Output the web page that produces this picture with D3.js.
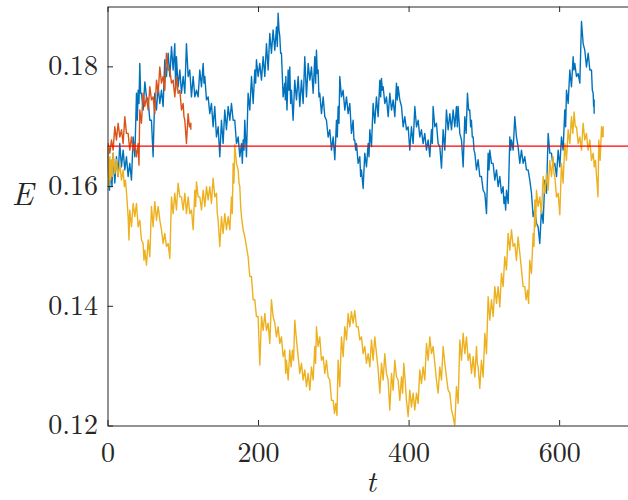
<!DOCTYPE html>
<html>
<head>
<meta charset="utf-8">
<script src="https://cdn.jsdelivr.net/npm/d3@7/dist/d3.min.js"></script>
<style>
html,body{margin:0;padding:0;background:#fff;}
svg{display:block;}
</style>
</head>
<body>
<svg id="chart" width="628" height="500"></svg>
<script>
// ---- data ----
// each sample: time t, upper and lower extent of the noisy trace around t
const xTicks = [0, 200, 400, 600];
const yTicks = [0.12, 0.14, 0.16, 0.18];
const refLevel = 1/6;

const blueT = [0,0.8,4.4,7.5,11.9,16.3,20.8,25.2,29.6,34.1,38.5,40.7,42.9,45.1,49.6,54.0,58.4,62.8,67.3,71.7,76.1,80.6,85.0,89.4,91.6,96.1,100.5,104.9,109.3,113.8,118.2,122.6,127.1,129.3,133.7,138.1,142.5,147.0,151.4,155.8,160.3,164.7,169.1,173.6,178.0,180.2,182.4,186.8,191.3,195.7,197.9,202.3,206.8,211.2,215.6,220.0,224.5,226.7,228.9,231.1,235.6,236.9,240.0,242.2,244.4,248.8,253.3,257.7,262.1,266.6,271.0,275.4,277.6,279.8,282.0,286.5,290.9,295.3,299.8,304.2,306.4,308.6,313.0,317.5,321.9,326.3,328.5,330.8,335.2,337.4,341.8,346.3,348.5,352.9,357.3,361.8,364.0,366.2,370.6,375.1,379.5,383.9,386.1,390.6,395.0,399.4,403.8,408.3,412.7,417.1,421.5,426.0,430.4,432.6,437.0,441.5,445.9,450.3,454.8,459.2,463.6,465.8,470.3,474.7,478.2,481.3,483.5,485.8,488.0,492.4,496.8,501.3,505.7,507.9,512.3,516.8,521.2,525.6,527.8,530.1,534.5,536.7,541.1,545.5,550.0,554.4,558.8,563.3,567.7,572.1,576.5,581.0,585.4,589.8,594.3,598.7,603.1,607.5,609.8,614.2,618.6,620.8,625.3,629.7,634.1,638.6,643.0,645.2,646.5];
const blueHi = [.1660,.1627,.1632,.1655,.1649,.1671,.1660,.1649,.1638,.1682,.1755,.1760,.1805,.1755,.1774,.1744,.1710,.1755,.1766,.1760,.1811,.1822,.1833,.1838,.1816,.1794,.1783,.1838,.1794,.1783,.1760,.1794,.1805,.1783,.1749,.1738,.1733,.1699,.1710,.1727,.1733,.1738,.1710,.1682,.1671,.1677,.1710,.1755,.1783,.1794,.1811,.1805,.1816,.1838,.1855,.1861,.1866,.1889,.1850,.1822,.1772,.1783,.1794,.1799,.1760,.1777,.1783,.1777,.1816,.1805,.1799,.1816,.1827,.1794,.1755,.1749,.1710,.1694,.1682,.1710,.1733,.1783,.1760,.1749,.1738,.1710,.1677,.1671,.1649,.1627,.1655,.1671,.1694,.1738,.1749,.1777,.1780,.1766,.1749,.1755,.1744,.1772,.1766,.1733,.1716,.1699,.1699,.1733,.1710,.1694,.1688,.1677,.1694,.1733,.1705,.1666,.1694,.1727,.1721,.1727,.1733,.1733,.1677,.1716,.1755,.1727,.1710,.1682,.1655,.1644,.1616,.1588,.1655,.1660,.1638,.1627,.1616,.1599,.1582,.1593,.1682,.1677,.1716,.1666,.1660,.1649,.1627,.1588,.1560,.1532,.1560,.1610,.1688,.1655,.1638,.1660,.1682,.1727,.1760,.1794,.1816,.1805,.1788,.1875,.1827,.1822,.1794,.1755,.1744];
const blueLo = [.1650,.1593,.1599,.1605,.1616,.1632,.1627,.1616,.1610,.1649,.1710,.1738,.1755,.1727,.1749,.1710,.1649,.1727,.1738,.1733,.1783,.1783,.1794,.1760,.1766,.1755,.1755,.1783,.1749,.1749,.1749,.1766,.1772,.1744,.1721,.1699,.1682,.1649,.1671,.1694,.1710,.1710,.1671,.1649,.1638,.1660,.1649,.1727,.1738,.1772,.1783,.1777,.1783,.1794,.1822,.1827,.1833,.1861,.1822,.1749,.1744,.1727,.1760,.1738,.1710,.1744,.1733,.1738,.1749,.1777,.1755,.1772,.1788,.1749,.1721,.1716,.1682,.1660,.1644,.1682,.1705,.1749,.1727,.1721,.1688,.1677,.1660,.1638,.1616,.1596,.1632,.1649,.1666,.1705,.1716,.1749,.1760,.1738,.1716,.1727,.1716,.1744,.1744,.1699,.1694,.1660,.1671,.1699,.1682,.1671,.1660,.1649,.1671,.1699,.1671,.1630,.1660,.1694,.1694,.1699,.1699,.1688,.1632,.1688,.1727,.1699,.1682,.1660,.1627,.1616,.1593,.1554,.1627,.1638,.1610,.1599,.1588,.1571,.1560,.1571,.1660,.1660,.1682,.1638,.1638,.1627,.1610,.1549,.1538,.1504,.1538,.1588,.1655,.1632,.1616,.1632,.1660,.1699,.1738,.1766,.1794,.1783,.1772,.1838,.1799,.1794,.1760,.1733,.1721];

const orangeT = [0,0.8,5.3,9.7,14.1,18.6,23.0,27.4,31.8,36.3,40.7,42.9,47.3,51.8,56.2,60.6,65.1,69.5,73.9,78.3,82.8,87.2,91.6,96.1,100.5,102.7,107.1,110.7];
const orangeHi = [.1667,.1671,.1677,.1699,.1705,.1694,.1716,.1688,.1682,.1671,.1671,.1727,.1755,.1749,.1766,.1749,.1777,.1799,.1783,.1822,.1794,.1777,.1783,.1760,.1738,.1710,.1721,.1705];
const orangeLo = [.1660,.1655,.1660,.1677,.1682,.1671,.1688,.1660,.1660,.1649,.1635,.1705,.1733,.1727,.1744,.1721,.1755,.1772,.1760,.1794,.1772,.1749,.1755,.1727,.1716,.1671,.1699,.1694];

const yellowT = [0,0.8,3.1,5.3,7.5,11.9,16.3,20.8,23.9,27.4,29.6,34.1,38.5,42.9,47.3,49.6,54.0,58.4,62.8,67.3,71.7,76.1,80.6,85.0,89.4,93.8,98.3,102.7,107.1,111.6,116.0,118.2,122.6,127.1,131.5,135.9,140.3,144.8,147.0,151.4,155.8,160.3,164.7,166.9,169.1,173.6,175.8,178.0,182.4,186.8,191.3,195.7,200.1,204.6,209.0,213.4,217.8,222.3,226.7,231.1,235.6,237.8,242.2,245.7,248.8,253.3,257.7,262.1,266.6,271.0,275.4,277.6,282.0,286.5,290.9,295.3,299.8,303.3,306.4,310.8,315.3,319.7,324.1,328.5,333.0,337.4,341.8,346.3,350.7,355.1,359.6,364.0,368.4,372.8,377.3,381.7,386.1,390.6,393.6,397.2,401.6,406.0,410.5,414.9,419.3,423.8,428.2,432.6,437.0,441.5,445.9,450.3,454.8,459.2,463.6,468.1,472.5,476.9,481.3,485.8,490.2,492.4,496.8,501.3,505.7,510.1,514.6,519.0,523.4,527.8,532.3,536.7,541.1,545.5,550.0,554.4,557.9,561.0,565.5,567.7,569.9,574.3,578.8,583.2,587.6,592.1,594.3,598.7,603.1,607.5,612.0,616.4,619.9,623.1,627.5,631.9,636.3,640.8,645.2,648.3,650.5,652.7,656.3,658.5];
const yellowHi = [.1667,.1666,.1649,.1644,.1655,.1644,.1638,.1627,.1610,.1549,.1560,.1571,.1571,.1543,.1504,.1493,.1510,.1566,.1574,.1566,.1527,.1521,.1504,.1582,.1588,.1605,.1582,.1588,.1582,.1560,.1593,.1607,.1582,.1593,.1599,.1599,.1613,.1588,.1543,.1549,.1554,.1549,.1582,.1638,.1669,.1627,.1599,.1549,.1515,.1482,.1449,.1410,.1382,.1382,.1387,.1371,.1410,.1371,.1365,.1348,.1326,.1309,.1326,.1326,.1376,.1315,.1304,.1293,.1287,.1298,.1332,.1365,.1348,.1315,.1309,.1276,.1242,.1237,.1309,.1348,.1365,.1387,.1390,.1392,.1365,.1348,.1332,.1320,.1343,.1348,.1293,.1304,.1320,.1276,.1287,.1309,.1276,.1281,.1304,.1242,.1259,.1254,.1254,.1293,.1298,.1337,.1348,.1332,.1276,.1298,.1332,.1281,.1254,.1215,.1265,.1343,.1354,.1348,.1320,.1315,.1332,.1298,.1309,.1354,.1415,.1410,.1432,.1432,.1454,.1482,.1521,.1527,.1504,.1515,.1460,.1432,.1426,.1476,.1521,.1577,.1593,.1582,.1616,.1621,.1643,.1649,.1616,.1588,.1638,.1671,.1694,.1716,.1724,.1699,.1682,.1705,.1688,.1677,.1655,.1643,.1604,.1677,.1699,.1699];
const yellowLo = [.1660,.1599,.1610,.1616,.1621,.1616,.1610,.1599,.1582,.1510,.1532,.1549,.1532,.1510,.1476,.1468,.1482,.1532,.1543,.1543,.1504,.1499,.1479,.1554,.1560,.1582,.1560,.1554,.1554,.1527,.1566,.1582,.1560,.1566,.1577,.1571,.1582,.1554,.1499,.1521,.1527,.1527,.1554,.1605,.1638,.1605,.1566,.1527,.1499,.1449,.1410,.1382,.1301,.1359,.1359,.1337,.1382,.1348,.1337,.1315,.1287,.1276,.1298,.1309,.1343,.1287,.1276,.1265,.1259,.1276,.1304,.1332,.1309,.1287,.1281,.1242,.1220,.1217,.1265,.1315,.1343,.1365,.1371,.1365,.1343,.1320,.1304,.1298,.1309,.1320,.1254,.1276,.1287,.1226,.1259,.1281,.1242,.1254,.1276,.1215,.1231,.1226,.1237,.1270,.1276,.1309,.1320,.1304,.1254,.1276,.1304,.1259,.1226,.1200,.1237,.1309,.1320,.1309,.1287,.1281,.1304,.1262,.1281,.1320,.1376,.1382,.1404,.1398,.1432,.1460,.1493,.1499,.1476,.1488,.1432,.1410,.1404,.1454,.1499,.1532,.1566,.1554,.1588,.1593,.1616,.1621,.1582,.1552,.1605,.1643,.1671,.1688,.1699,.1671,.1660,.1677,.1660,.1643,.1632,.1621,.1582,.1643,.1682,.1682];

// ---- layout ----
const svg = d3.select("#chart");
const x = d3.scaleLinear().domain([0, 700]).range([107.5, 634.4]);
const y = d3.scaleLinear().domain([0.12, 0.19]).range([425.5, 6.5]);
const axisColor = "#262626";
const fontFam = "'Latin Modern Roman','CMU Serif','Liberation Serif','Times New Roman',serif";

svg.append("defs").append("clipPath").attr("id", "plotClip")
  .append("rect")
  .attr("x", x(0)).attr("y", y(0.19))
  .attr("width", x(700) - x(0)).attr("height", y(0.12) - y(0.19));

function zig(T, H, L) {
  const pts = [];
  for (let i = 0; i < T.length; i++) {
    const tn = i < T.length - 1 ? T[i + 1] : T[i];
    pts.push([T[i], H[i]]);
    pts.push([(T[i] + tn) / 2, L[i]]);
  }
  return pts;
}
const line = d3.line().x(d => x(d[0])).y(d => y(d[1]));

const plot = svg.append("g").attr("clip-path", "url(#plotClip)");
const series = [
  {T: blueT, H: blueHi, L: blueLo, c: "#0072BD"},
  {T: orangeT, H: orangeHi, L: orangeLo, c: "#D95319"},
  {T: yellowT, H: yellowHi, L: yellowLo, c: "#EDB120"}
];
series.forEach(s => {
  plot.append("path")
    .attr("d", line(zig(s.T, s.H, s.L)))
    .attr("fill", "none")
    .attr("stroke", s.c)
    .attr("stroke-width", 1.4)
    .attr("stroke-linejoin", "round");
});
plot.append("path")
  .attr("d", line([[0, refLevel], [700, refLevel]]))
  .attr("fill", "none").attr("stroke", "#FF0000").attr("stroke-width", 1.1);

// ---- axes ----
function styleAxis(g) {
  g.selectAll("path.domain").attr("stroke", axisColor).attr("stroke-width", 1);
  g.selectAll(".tick line").attr("stroke", axisColor).attr("stroke-width", 1);
  g.selectAll(".tick text").attr("fill", axisColor)
    .style("font-family", fontFam).style("font-size", "28px");
}
const gx = svg.append("g").attr("transform", `translate(0,${y(0.12)})`)
  .call(d3.axisBottom(x).tickValues(xTicks).tickFormat(d3.format("d"))
    .tickSizeInner(-5.5).tickSizeOuter(0).tickPadding(17));
styleAxis(gx);
const gxt = svg.append("g").attr("transform", `translate(0,${y(0.19)})`)
  .call(d3.axisTop(x).tickValues(xTicks).tickFormat("")
    .tickSizeInner(-5.5).tickSizeOuter(0));
styleAxis(gxt);
const gy = svg.append("g").attr("transform", `translate(${x(0)},0)`)
  .call(d3.axisLeft(y).tickValues(yTicks).tickFormat(d3.format(".2f"))
    .tickSizeInner(-5.5).tickSizeOuter(0).tickPadding(9.5));
styleAxis(gy);
gy.selectAll(".tick text").attr("dy", "0.30em");

// ---- labels ----
svg.append("text").text("t")
  .attr("x", (x(0) + x(700)) / 2).attr("y", 492)
  .attr("text-anchor", "middle").attr("fill", axisColor)
  .style("font-family", fontFam).style("font-style", "italic").style("font-size", "30px");
svg.append("text").text("E")
  .attr("x", 22.5).attr("y", 205)
  .attr("text-anchor", "middle").attr("fill", axisColor)
  .style("font-family", fontFam).style("font-style", "italic").style("font-size", "32px");
</script>
</body>
</html>
